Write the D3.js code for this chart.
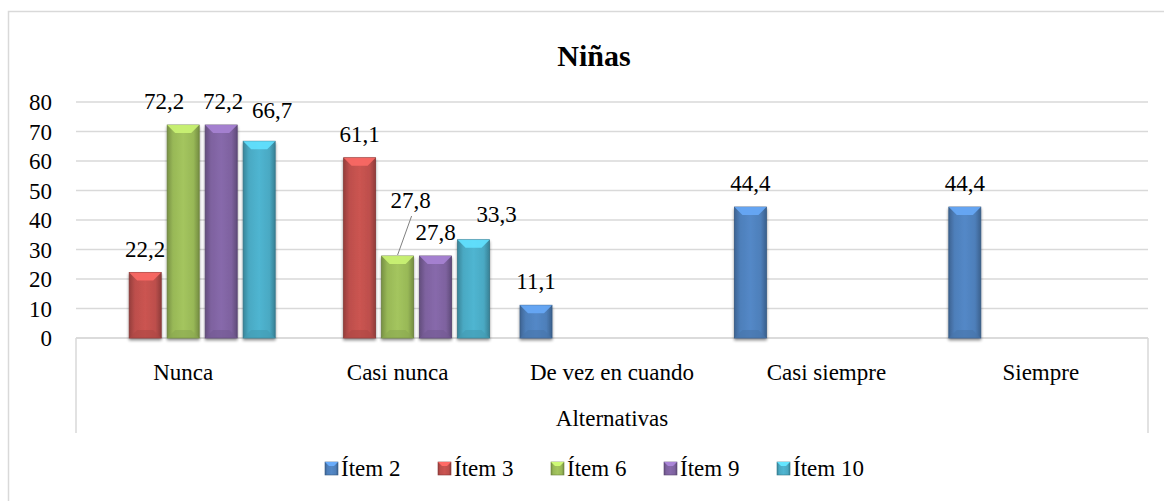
<!DOCTYPE html>
<html>
<head>
<meta charset="utf-8">
<script src="https://cdn.jsdelivr.net/npm/d3@7"></script>
</head>
<body style="margin:0;font-family:'Liberation Serif'">
<svg id="s" width="1164" height="501"></svg>
<script>
// data
var categories = ["Nunca", "Casi nunca", "De vez en cuando", "Casi siempre", "Siempre"]
var seriesNames = ["Ítem 2", "Ítem 3", "Ítem 6", "Ítem 9", "Ítem 10"]
var item2 = [null, null, 11.1, 44.4, 44.4]
var item3 = [22.2, 61.1, null, null, null]
var item6 = [72.2, 27.8, null, null, null]
var item9 = [72.2, 27.8, null, null, null]
var item10 = [66.7, 33.3, null, null, null]
var yTicks = [0, 10, 20, 30, 40, 50, 60, 70, 80]
var axisTitle = "Alternativas"
var chartTitle = "Niñas"

var seriesValues = [item2, item3, item6, item9, item10]
var colors = ["#4f81bd", "#c0504d", "#9bbb59", "#8064a2", "#4bacc6"]

var FONT = "Liberation Serif"
var FS = 23

// labels that were dragged by hand in the original
var labelShift = {
    "Nunca|Ítem 6": [-19, 0],
    "Nunca|Ítem 9": [2, 0],
    "Nunca|Ítem 10": [13, -7],
    "Casi nunca|Ítem 6": [13, -32],
    "Casi nunca|Ítem 10": [23, -2]
}
var leaderLines = ["Casi nunca|Ítem 6"]

var width = 1164,
    height = 501

var margin = {top: 102, right: 16, bottom: 163, left: 76}

var svg = d3.select("#s")

var defs = svg.append("defs")

// bevel look: darker sides, lighter middle
colors.forEach(function (c, i) {
    var g = defs.append("linearGradient")
        .attr("id", "grad" + i)
        .attr("x1", 0).attr("x2", 1).attr("y1", 0).attr("y2", 0)
    var base = d3.color(c)
    g.append("stop").attr("offset", "0%").attr("stop-color", base.darker(0.7))
    g.append("stop").attr("offset", "18%").attr("stop-color", base.darker(0.05))
    g.append("stop").attr("offset", "50%").attr("stop-color", base.brighter(0.15))
    g.append("stop").attr("offset", "82%").attr("stop-color", base.darker(0.05))
    g.append("stop").attr("offset", "100%").attr("stop-color", base.darker(0.8))
})

var shadow = defs.append("filter").attr("id", "shadow")
    .attr("x", "-20%").attr("y", "-10%").attr("width", "140%").attr("height", "130%")
shadow.append("feGaussianBlur").attr("in", "SourceAlpha").attr("stdDeviation", 1.6)
shadow.append("feOffset").attr("dy", 2).attr("result", "blur")
shadow.append("feComponentTransfer").append("feFuncA").attr("type", "linear").attr("slope", 0.45)
var merge = shadow.append("feMerge")
merge.append("feMergeNode")
merge.append("feMergeNode").attr("in", "SourceGraphic")

// outer frame (cut off at right and bottom)
svg.append("rect")
    .attr("x", 8.5).attr("y", 11.5)
    .attr("width", 1200).attr("height", 520)
    .attr("fill", "none")
    .attr("stroke", "#d9d9d9")
    .attr("stroke-width", 1.5)

var x0 = d3.scaleBand()
    .domain(categories)
    .range([margin.left, width - margin.right])
    .paddingInner(0.114)
    .paddingOuter(0.057)

var x1 = d3.scaleBand()
    .domain(seriesNames)
    .range([0, x0.bandwidth()])
    .paddingInner(0.158)
    .paddingOuter(0.079)

var y = d3.scaleLinear()
    .domain([0, 80])
    .range([height - margin.bottom, margin.top])

// gridlines
svg.append("g")
    .selectAll("line")
    .data(yTicks)
    .enter()
    .append("line")
    .attr("x1", margin.left)
    .attr("x2", width - margin.right)
    .attr("y1", function (d) { return y(d); })
    .attr("y2", function (d) { return y(d); })
    .attr("stroke", "#d9d9d9")
    .attr("stroke-width", 1.5)

// y axis labels (own text, not d3.axis, so the font stays serif)
svg.append("g")
    .selectAll("text")
    .data(yTicks)
    .enter()
    .append("text")
    .attr("x", 52)
    .attr("y", function (d) { return y(d) + 8; })
    .attr("text-anchor", "end")
    .attr("font-family", FONT)
    .attr("font-size", FS)
    .text(function (d) { return d; })

// category axis box
var yBase = y(0)
svg.append("line")
    .attr("x1", margin.left).attr("x2", width - margin.right)
    .attr("y1", yBase).attr("y2", yBase)
    .attr("stroke", "#d9d9d9").attr("stroke-width", 1.5)
;[margin.left, width - margin.right].forEach(function (xx) {
    svg.append("line")
        .attr("x1", xx).attr("x2", xx)
        .attr("y1", yBase).attr("y2", 433)
        .attr("stroke", "#d9d9d9").attr("stroke-width", 1.5)
})

svg.append("g")
    .selectAll("text")
    .data(categories)
    .enter()
    .append("text")
    .attr("x", function (d) { return x0(d) + x0.bandwidth() / 2; })
    .attr("y", yBase + 42)
    .attr("text-anchor", "middle")
    .attr("font-family", FONT)
    .attr("font-size", FS)
    .text(function (d) { return d; })

svg.append("text")
    .attr("x", (margin.left + width - margin.right) / 2)
    .attr("y", 426)
    .attr("text-anchor", "middle")
    .attr("font-family", FONT)
    .attr("font-size", FS)
    .text(axisTitle)

svg.append("text")
    .attr("x", 594)
    .attr("y", 66)
    .attr("text-anchor", "middle")
    .attr("font-family", FONT)
    .attr("font-size", 30)
    .attr("font-weight", "bold")
    .text(chartTitle)

// flatten to bars
var bars = []
categories.forEach(function (cat, ci) {
    seriesNames.forEach(function (s, si) {
        var v = seriesValues[si][ci]
        if (v != null) bars.push({cat: cat, series: s, idx: si, value: v})
    })
})

function bevelBar(g, x, yTop, w, h, idx) {
    var b = Math.min(8, h / 2)
    var c = d3.color(colors[idx])
    g.append("rect")
        .attr("x", x).attr("y", yTop)
        .attr("width", w).attr("height", h)
        .attr("fill", "url(#grad" + idx + ")")
        .attr("stroke", c.darker(1))
        .attr("stroke-width", 0.8)
        .attr("filter", "url(#shadow)")
    // top facet
    g.append("polygon")
        .attr("points", [[x, yTop], [x + w, yTop], [x + w - b, yTop + b], [x + b, yTop + b]].join(" "))
        .attr("fill", c.brighter(0.75))
        .attr("opacity", 0.9)
    // bottom facet
    g.append("polygon")
        .attr("points", [[x, yTop + h], [x + w, yTop + h], [x + w - b, yTop + h - b], [x + b, yTop + h - b]].join(" "))
        .attr("fill", c.darker(0.3))
        .attr("opacity", 0.6)
}

var barG = svg.append("g")
bars.forEach(function (d) {
    var bx = x0(d.cat) + x1(d.series)
    bevelBar(barG, bx, y(d.value), x1.bandwidth(), yBase - y(d.value), d.idx)
})

// value labels
var labG = svg.append("g")
bars.forEach(function (d) {
    var key = d.cat + "|" + d.series
    var shift = labelShift[key] || [0, 0]
    var cx = x0(d.cat) + x1(d.series) + x1.bandwidth() / 2
    var ly = y(d.value) - 16
    if (leaderLines.indexOf(key) >= 0) {
        labG.append("line")
            .attr("x1", cx).attr("y1", y(d.value) - 1)
            .attr("x2", cx + shift[0] + 1).attr("y2", ly + shift[1] + 8)
            .attr("stroke", "#808080")
            .attr("stroke-width", 1)
    }
    labG.append("text")
        .attr("x", cx + shift[0])
        .attr("y", ly + shift[1])
        .attr("text-anchor", "middle")
        .attr("font-family", FONT)
        .attr("font-size", FS)
        .text(d.value.toFixed(1).replace(".", ","))
})

// legend, evenly spaced like the original
var lgX = d3.scalePoint()
    .domain(seriesNames)
    .range([325, 777])

var legend = svg.append("g")
    .attr("transform", "translate(0,476)")
seriesNames.forEach(function (s, i) {
    var g = legend.append("g")
        .attr("transform", "translate(" + lgX(s) + ",0)")
    var c = d3.color(colors[i])
    g.append("rect")
        .attr("x", 0).attr("y", -14)
        .attr("width", 13).attr("height", 13)
        .attr("fill", "url(#grad" + i + ")")
        .attr("stroke", c.darker(1)).attr("stroke-width", 0.6)
    g.append("polygon")
        .attr("points", "0,-14 13,-14 9,-10 4,-10")
        .attr("fill", c.brighter(0.8))
    g.append("text")
        .attr("x", 16)
        .attr("y", 0)
        .attr("font-family", FONT)
        .attr("font-size", FS)
        .text(s)
})
</script>
</body>
</html>
